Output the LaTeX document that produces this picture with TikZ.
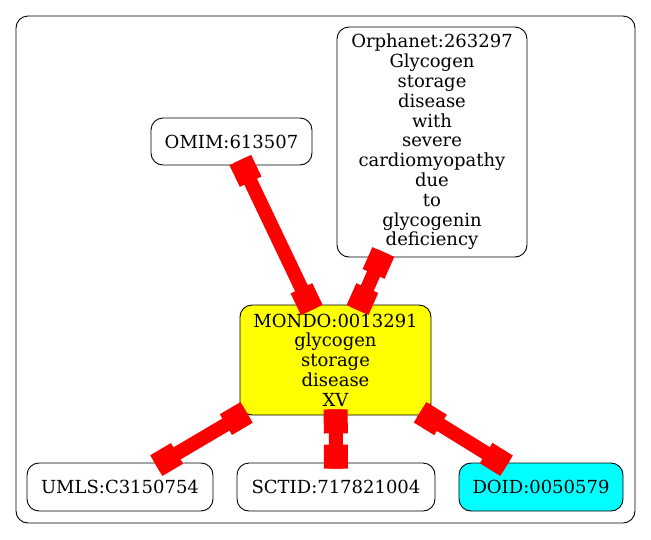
\documentclass[tikz,border=0pt]{standalone}
\usepackage{fontspec}
\setmainfont{DejaVu Serif}
\usetikzlibrary{calc}
\definecolor{gvred}{RGB}{255,0,0}
\definecolor{gvyellow}{RGB}{255,255,0}
\definecolor{gvcyan}{RGB}{0,255,255}
\newcommand\linkboxes[3]{%
  \path (#1) -- (#2) coordinate[pos=0] (#3a) coordinate[pos=1] (#3b);
  \coordinate (#3s) at ($(#3a)!-6pt!(#3b)$);
  \coordinate (#3t) at ($(#3b)!-6pt!(#3a)$);
  \draw[link] (#3s) -- (#3t);
  \path (#3s) -- (#3t) node[tipbox, pos=0, anchor=west] (#3p) {} node[tipbox, pos=1, anchor=east] (#3q) {};
}
\begin{document}
\begin{tikzpicture}[x=1pt,y=-1pt,
  nd/.style={draw=black, line width=0.9pt, rounded corners=12pt, align=center, inner sep=0pt,
    font=\fontsize{18}{19.8}\selectfont},
  tipbox/.style={fill=gvred, minimum width=24pt, minimum height=24pt, inner sep=0pt, outer sep=0pt,
    sloped, allow upside down},
  link/.style={draw=gvred, line width=14pt}]
\useasboundingbox (0,0) rectangle (651,539);
\draw[line width=0.9pt, rounded corners=12pt] (16,16) rectangle (635,523);

\node[nd, minimum width=161pt, minimum height=47pt] (omim) at (231.5,141.5) {OMIM:613507};
\node[nd, minimum width=190pt, minimum height=230pt] (orpha) at (432,142) {Orphanet:263297\\Glycogen\\storage\\disease\\with\\severe\\cardiomyopathy\\due\\to\\glycogenin\\deficiency};
\node[nd, fill=gvyellow, minimum width=191pt, minimum height=110pt] (mondo) at (335.5,360) {MONDO:0013291\\glycogen\\storage\\disease\\XV};
\node[nd, minimum width=186pt, minimum height=48pt] (umls) at (120,487) {UMLS:C3150754};
\node[nd, minimum width=198pt, minimum height=48pt] (sctid) at (336,487) {SCTID:717821004};
\node[nd, fill=gvcyan, minimum width=164pt, minimum height=48pt] (doid) at (541,487) {DOID:0050579};

\linkboxes{omim}{mondo}{e1}
\linkboxes{orpha}{mondo}{e2}
\linkboxes{mondo}{umls}{e3}
\linkboxes{mondo}{sctid}{e4}
\linkboxes{mondo}{doid}{e5}
\end{tikzpicture}
\end{document}
